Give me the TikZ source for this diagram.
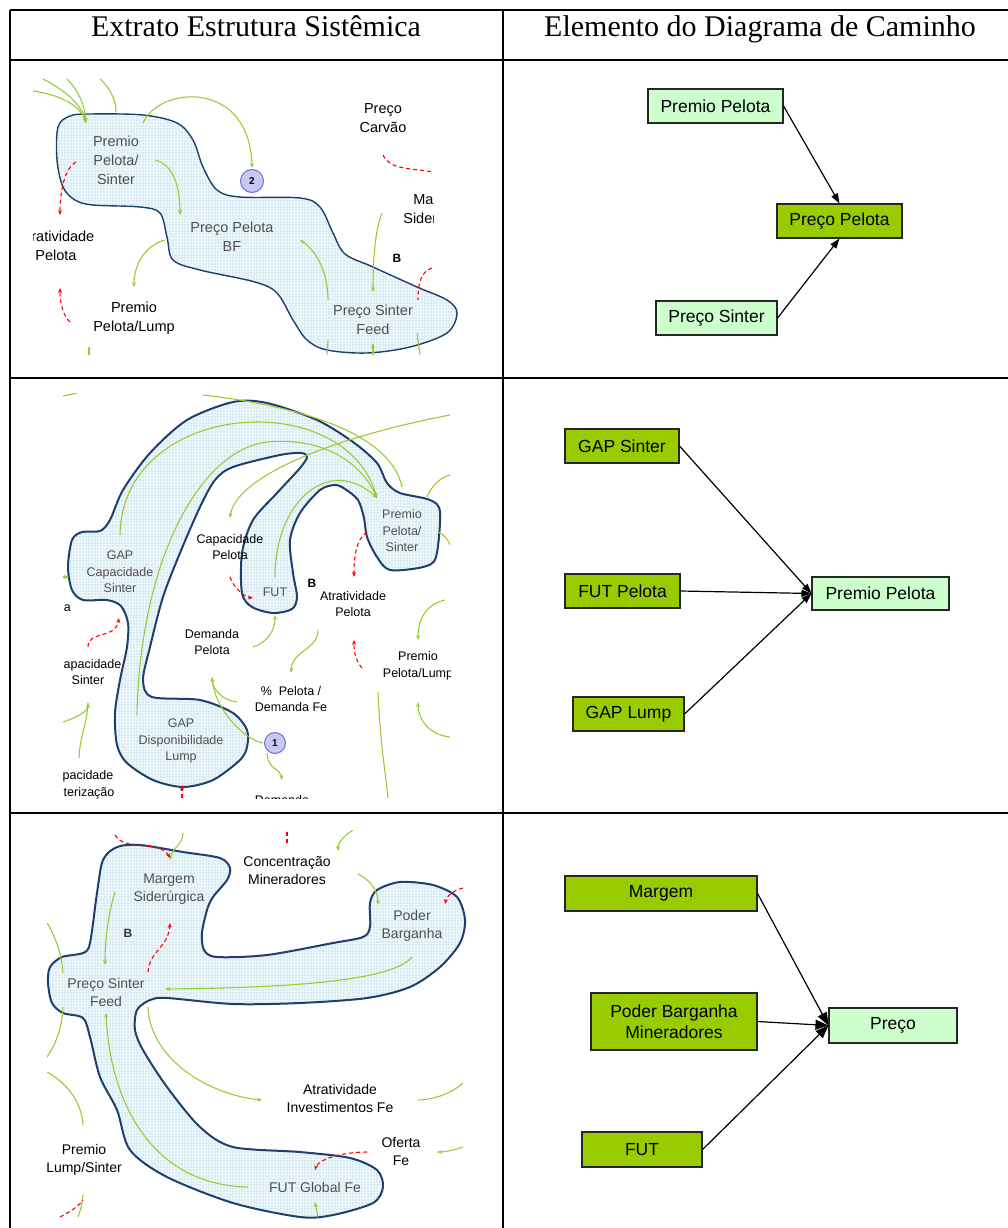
\documentclass[tikz,border=0pt]{standalone}
\usepackage{fontspec}
\setmainfont{Liberation Serif}
\newfontfamily\arialf{Liberation Sans}
\usetikzlibrary{arrows.meta,patterns}
\definecolor{blobfill}{HTML}{D6ECF2}
\definecolor{blobline}{HTML}{1F3F6E}
\definecolor{grn}{HTML}{99CC33}
\definecolor{lgreen}{HTML}{CCFFCC}
\definecolor{dgreen}{HTML}{99CC00}
\definecolor{txtgray}{HTML}{505050}
\definecolor{circfill}{HTML}{C8C8F5}
\definecolor{circline}{HTML}{7070CC}
\begin{document}
\begin{tikzpicture}[x=1pt,y=-1pt,
 tabline/.style={line width=1.5pt},
 blob/.style={preaction={fill=blobfill}, pattern=grid, pattern color=white!60!blobfill, draw=blobline, line width=1.8pt},
 ga/.style={draw=grn, line width=1.1pt, -{Stealth[length=5pt,width=4pt]}},
 gl/.style={draw=grn, line width=1.1pt},
 ra/.style={draw=red, line width=1.1pt, dash pattern=on 4pt off 3pt, -{Stealth[length=5pt,width=4pt]}},
 rl/.style={draw=red, line width=1.1pt, dash pattern=on 4pt off 3pt},
 hdr/.style={font=\fontsize{30}{32}\selectfont, inner sep=0pt},
 lA/.style={font=\arialf\fontsize{14.5}{19}\selectfont, align=center, inner sep=0pt},
 lB/.style={font=\arialf\fontsize{12.5}{16.5}\selectfont, align=center, inner sep=0pt},
 lC/.style={font=\arialf\fontsize{14}{18}\selectfont, align=center, inner sep=0pt},
 gt/.style={text=txtgray},
 bb/.style={font=\arialf\bfseries\fontsize{12}{14}\selectfont, inner sep=0pt},
 circ/.style={circle, fill=circfill, draw=circline, line width=1pt, minimum size=23pt, inner sep=0pt, font=\arialf\bfseries\fontsize{10}{12}\selectfont},
 box/.style={draw=black!85, line width=1.1pt, font=\arialf\fontsize{17.5}{20.5}\selectfont, align=center, inner sep=0pt},
 lbox/.style={box, fill=lgreen},
 dbox/.style={box, fill=dgreen},
 parr/.style={line width=1.2pt, -{Triangle[length=10pt,width=7pt]}},
 parrb/.style={line width=1.2pt, -{Triangle[length=13pt,width=10pt]}}
]
\useasboundingbox (0,0) rectangle (1008,1228);
% table
\draw[tabline] (10,10) -- (1008,10);
\draw[tabline] (10,60) -- (1008,60);
\draw[tabline] (10,378) -- (1008,378);
\draw[tabline] (10,813) -- (1008,813);
\draw[tabline] (10,10) -- (10,1228);
\draw[tabline] (503,10) -- (503,1228);
\node[hdr, anchor=base] (h1) at (256,37) {Extrato Estrutura Sistêmica};
\node[hdr, anchor=base] (h2) at (760,37) {Elemento do Diagrama de Caminho};

% ---------- Row 1 left ----------
\draw[blob, line width=1.4pt] plot[smooth cycle, tension=0.55] coordinates {
 (58,127) (70,116) (90,114) (143,115) (177,123) (193,140) (203,167) (217,190) (240,197)
 (300,198) (320,207) (333,233) (345,254) (373,267) (417,287) (447,300) (457,313)
 (447,333) (410,347) (367,353) (327,350) (307,340) (293,320) (277,293) (255,282)
 (200,270) (173,260) (167,237) (160,213) (140,207) (93,205) (75,200) (63,187) (57,160)};
\begin{scope}
\clip (33,79) rectangle (433,355);
\draw[ga] (33,91) .. controls (60,95) and (80,105) .. (86,123);
\draw[ga] (43,79) .. controls (65,90) and (82,105) .. (86,123);
\draw[ga] (67,79) .. controls (78,90) and (85,105) .. (86,123);
\draw[gl] (100,79) .. controls (110,88) and (116,100) .. (116,112);
\draw[ga] (143,123) .. controls (160,85) and (250,80) .. (252,168);
\draw[ga] (155,160) .. controls (175,165) and (180,190) .. (180,215);
\draw[ga] (165,240) .. controls (145,245) and (134,265) .. (134,287);
\draw[ga] (328,300) .. controls (328,270) and (315,250) .. (300,240);
\draw[ga] (382,213) .. controls (375,230) and (373,260) .. (373,292);
\draw[ga] (373,355) -- (373,343);
\draw[gl] (327,355) -- (328,340);
\draw[gl] (420,355) -- (417,333);
\draw[gl] (89,347) -- (89,355);
\draw[ra] (76,162) .. controls (65,168) and (60,190) .. (60,215);
\draw[ra] (70,322) .. controls (62,315) and (60,300) .. (60,288);
\draw[rl] (383,155) .. controls (390,170) and (410,168) .. (433,172);
\draw[rl] (432,268) .. controls (420,272) and (418,285) .. (418,300);
\node[lA] (a5) at (440,211) {Margem\\Siderúrgica};
\node[lA] (a6) at (56,246) {Atratividade\\Pelota};
\end{scope}
\node[circ] (c2) at (252,181) {2};
\node[lA, gt] (a1) at (116,160) {Premio\\Pelota/\\Sinter};
\node[lA, gt] (a2) at (232,237) {Preço Pelota\\BF};
\node[lA, gt] (a3) at (373,320) {Preço Sinter\\Feed};
\node[lA] (a4) at (383,118) {Preço\\Carvão};
\node[lA] (a7) at (134,318) {Premio\\Pelota/Lump};
\node[bb] (a8) at (397,258) {B};

% ---------- Row 2 left ----------
\draw[blob, line width=2pt] plot[smooth cycle, tension=0.5] coordinates {
 (72,540) (82,532) (100,531) (110,520) (123,490) (150,453) (187,420) (233,402)
 (267,403) (317,420) (353,442) (377,463) (387,483) (400,493) (430,500) (440,512)
 (436,557) (423,567) (390,570) (377,557) (367,537) (364,518) (358,500) (345,489)
 (335,485) (320,490) (300,513) (290,540) (293,573) (297,597) (292,609) (273,613)
 (252,607) (242,593) (242,553) (253,520) (277,493) (300,468) (307,457) (301,453)
 (280,455) (233,467) (215,480) (200,507) (180,553) (163,597) (150,647) (143,680)
 (152,697) (200,700) (233,713) (247,730) (247,747) (240,760) (213,780) (183,787)
 (153,780) (127,763) (117,745) (115,713) (120,680) (127,647) (128,623) (121,606)
 (107,600) (83,600) (72,590) (68,567)};
\begin{scope}
\clip (63,393) rectangle (450,798);
\draw[ga] (120,535) .. controls (122,400) and (345,385) .. (377,498);
\draw[gl] (137,715) .. controls (140,560) and (200,450) .. (267,442);
\draw[ga] (267,442) .. controls (320,437) and (360,460) .. (377,498);
\draw[ga] (275,577) .. controls (275,500) and (330,455) .. (377,498);
\draw[gl] (203,395) .. controls (290,405) and (390,430) .. (402,487);
\draw[ga] (450,415) .. controls (320,440) and (235,480) .. (230,518);
\draw[gl] (63,396) -- (77,393);
\draw[ga] (253,647) .. controls (268,642) and (275,630) .. (275,615);
\draw[ga] (318,630) .. controls (318,650) and (292,650) .. (291,673);
\draw[ga] (445,600) .. controls (425,605) and (418,620) .. (418,640);
\draw[ga] (450,737) .. controls (430,735) and (418,720) .. (418,702);
\draw[gl] (378,692) .. controls (380,740) and (385,770) .. (388,798);
\draw[ga] (263,743) .. controls (245,740) and (215,710) .. (212,677);
\draw[ga] (237,702) .. controls (222,700) and (213,690) .. (212,677);
\draw[ga] (267,753) .. controls (268,770) and (280,768) .. (282,780);
\draw[ga] (63,722) .. controls (75,718) and (88,712) .. (88,703);
\draw[gl] (79,758) .. controls (80,735) and (87,725) .. (88,703);
\draw[ga] (63,577) -- (69,577);
\draw[gl] (427,497) .. controls (432,485) and (440,478) .. (450,475);
\draw[gl] (438,532) .. controls (445,535) and (448,540) .. (450,545);
\draw[ra] (367,532) .. controls (355,540) and (354,560) .. (354,577);
\draw[ra] (230,577) .. controls (235,590) and (245,597) .. (253,598);
\draw[ra] (88,647) .. controls (88,630) and (115,640) .. (119,618);
\draw[ra] (362,668) .. controls (355,660) and (354,650) .. (354,640);
\draw[ra] (182,798) -- (182,785);
\node[lB] (b9) at (418,666) {Premio\\Pelota/Lump};
\node[lB, anchor=east] (b11) at (71,608) {a};
\node[lB] (b12) at (88,672) {Capacidade\\Sinter};
\node[lB] (b13) at (80,785) {Capacidade\\Sinterização};
\node[lB, anchor=north] (b14) at (282,795) {Demanda};
\end{scope}
\node[circ, minimum size=21pt] (c1) at (275,743) {1};
\node[lB, gt] (b1) at (120,572) {GAP\\Capacidade\\Sinter};
\node[lB, gt] (b2) at (402,531) {Premio\\Pelota/\\Sinter};
\node[lB, gt] (b3) at (275,592) {FUT};
\node[lB, gt] (b4) at (181,741) {GAP\\Disponibilidade\\Lump};
\node[lB] (b5) at (230,547) {Capacidade\\Pelota};
\node[lB] (b6) at (212,642) {Demanda\\Pelota};
\node[bb] (b7) at (312,583) {B};
\node[lB] (b8) at (353,604) {Atratividade\\Pelota};
\node[lB] (b10) at (291,699) {\%\ \ Pelota /\\Demanda Fe};

% ---------- Row 3 left ----------
\draw[blob, line width=2pt] plot[smooth cycle, tension=0.5] coordinates {
 (50,967) (62,957) (83,953) (90,943) (97,893) (103,860) (117,847) (140,845)
 (183,852) (220,858) (230,868) (227,880) (213,897) (207,910) (202,933) (204,950)
 (217,957) (267,955) (333,943) (363,937) (370,927) (370,903) (377,890) (400,882)
 (433,885) (457,897) (465,920) (460,943) (440,967) (410,987) (367,998) (300,1003)
 (233,1004) (167,998) (150,1000) (137,1010) (135,1030) (143,1050) (167,1087)
 (200,1127) (233,1147) (300,1152) (350,1158) (377,1170) (383,1187) (373,1203)
 (333,1215) (300,1217) (233,1203) (167,1177) (130,1150) (117,1110) (100,1077)
 (90,1037) (83,1018) (63,1013) (52,1003) (48,983)};
\begin{scope}
\clip (47,830) rectangle (463,1218);
\draw[ga] (183,833) .. controls (183,845) and (172,848) .. (170,860);
\draw[ga] (115,892) .. controls (108,915) and (105,940) .. (105,965);
\draw[ga] (412,957) .. controls (390,985) and (250,988) .. (165,989);
\draw[ga] (248,1187) .. controls (150,1185) and (110,1100) .. (106,1013);
\draw[ga] (148,1007) .. controls (150,1060) and (210,1095) .. (262,1100);
\draw[ga] (353,830) .. controls (345,835) and (338,842) .. (338,851);
\draw[ga] (358,874) .. controls (370,880) and (378,890) .. (378,905);
\draw[gl] (463,1083) .. controls (450,1095) and (430,1100) .. (418,1100);
\draw[ga] (463,1147) .. controls (455,1150) and (445,1152) .. (437,1152);
\draw[ga] (318,1217) -- (315,1202);
\draw[gl] (47,923) .. controls (55,935) and (62,955) .. (63,973);
\draw[gl] (63,1007) .. controls (62,1030) and (55,1045) .. (47,1057);
\draw[gl] (47,1072) .. controls (70,1085) and (82,1105) .. (83,1125);
\draw[gl] (83,1195) .. controls (82,1205) and (80,1212) .. (78,1217);
\draw[ra] (115,835) .. controls (125,852) and (160,840) .. (170,858);
\draw[rl] (287,832) -- (287,843);
\draw[ra] (148,972) .. controls (150,950) and (168,948) .. (170,923);
\draw[ra] (463,888) .. controls (455,890) and (447,895) .. (445,904);
\draw[ra] (367,1152) .. controls (340,1152) and (318,1160) .. (315,1170);
\draw[rl] (60,1217) .. controls (70,1212) and (80,1205) .. (83,1200);
\end{scope}
\node[lC, gt] (m1) at (169,889) {Margem\\Siderúrgica};
\node[lC, gt] (m2) at (106,992) {Preço Sinter\\Feed};
\node[lC, gt] (m3) at (412,926) {Poder\\Barganha};
\node[lC, gt] (m4) at (315,1187) {FUT Global Fe};
\node[lC] (m5) at (287,871) {Concentração\\Mineradores};
\node[bb, text=black!80] (m6) at (128,933) {B};
\node[lC] (m7) at (340,1098) {Atratividade\\Investimentos Fe};
\node[lC] (m8) at (401,1151) {Oferta\\Fe};
\node[lC] (m9) at (84,1160) {Premio\\Lump/Sinter};

% ---------- Right column ----------
\node[lbox, minimum width=135pt, minimum height=34pt] (pp1) at (715.5,106) {Premio Pelota};
\node[dbox, minimum width=125pt, minimum height=34pt] (prp) at (839.5,221) {Preço Pelota};
\node[lbox, minimum width=121pt, minimum height=34pt] (ps) at (716.5,318) {Preço Sinter};
\draw[parr] (pp1.east) -- (prp.north);
\draw[parr] (ps.east) -- (prp.south);

\node[dbox, minimum width=114pt, minimum height=34pt] (gs) at (622,446) {GAP Sinter};
\node[dbox, minimum width=115pt, minimum height=34pt] (fp) at (622.5,591) {FUT Pelota};
\node[dbox, minimum width=111pt, minimum height=34pt] (glp) at (628.5,714) {GAP Lump};
\node[lbox, minimum width=137pt, minimum height=33pt] (pp2) at (880.5,593.5) {Premio Pelota};
\draw[parr] (gs.east) -- (pp2.west);
\draw[parr] (fp.east) -- (pp2.west);
\draw[parr] (glp.east) -- (pp2.west);

\node[dbox, minimum width=192pt, minimum height=35pt] (mg) at (661,893.5) {Margem};
\node[dbox, minimum width=166pt, minimum height=57pt] (pb) at (674,1021.5) {Poder Barganha\\Mineradores};
\node[dbox, minimum width=120pt, minimum height=35pt] (fut) at (642,1149.5) {FUT};
\node[lbox, minimum width=128pt, minimum height=35pt] (pr) at (893,1025.5) {Preço};
\draw[parrb] (mg.east) -- (pr.west);
\draw[parrb] (pb.east) -- (pr.west);
\draw[parrb] (fut.east) -- (pr.west);
\end{tikzpicture}
\end{document}
